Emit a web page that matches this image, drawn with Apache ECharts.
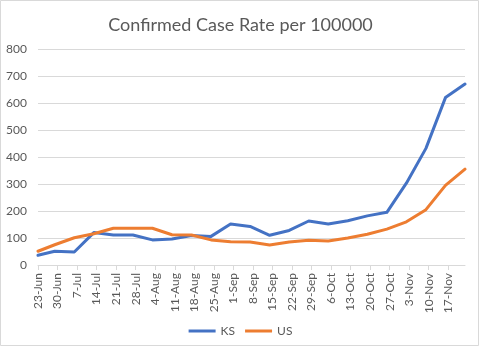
<!DOCTYPE html>
<html>
<head>
<meta charset="utf-8">
<script src="https://cdn.jsdelivr.net/npm/echarts@6/dist/echarts.min.js"></script>
<style>
html,body{margin:0;padding:0;background:#fff;}
#chart{width:481px;height:348px;}
</style>
</head>
<body>
<div id="chart"></div>
<script>
const dates = ['2020-06-23','2020-06-29','2020-07-06','2020-07-13','2020-07-20','2020-07-27','2020-08-03','2020-08-10','2020-08-17','2020-08-24','2020-08-31','2020-09-07','2020-09-14','2020-09-21','2020-09-28','2020-10-05','2020-10-12','2020-10-19','2020-10-26','2020-11-02','2020-11-09','2020-11-16','2020-11-23'];
const ksValues = [36,51,48,120,111,111,93,96,109,106,152,143,110,128,163,152,164,182,195,303,432,620,670];
const usValues = [51,75,101,116,136,136,136,112,111,93,86,85,74,85,92,89,100,114,133,160,205,295,355];
const tickLabels = ['23-Jun','30-Jun','7-Jul','14-Jul','21-Jul','28-Jul','4-Aug','11-Aug','18-Aug','25-Aug','1-Sep','8-Sep','15-Sep','22-Sep','29-Sep','6-Oct','13-Oct','20-Oct','27-Oct','3-Nov','10-Nov','17-Nov'];
const yTicks = [0,100,200,300,400,500,600,700,800];

const DAY = 86400000;
const t0 = Date.parse(dates[0]);
const dayOffsets = dates.map(d => Math.round((Date.parse(d) - t0) / DAY));
const tickValues = tickLabels.map((_, i) => i * 7);
const FONT = 'Lato, "Open Sans", sans-serif';
const TXT = '#595959';

const chart = echarts.init(document.getElementById('chart'), null, {renderer: 'canvas'});
chart.setOption({
  animation: false,
  backgroundColor: '#fff',
  title: {
    text: 'Confirmed Case Rate per 100000',
    left: 'center',
    top: 11,
    textStyle: {fontFamily: FONT, fontSize: 18, fontWeight: 'normal', color: TXT}
  },
  graphic: [{
    type: 'rect',
    shape: {x: 0.5, y: 0.5, width: 478, height: 345},
    style: {fill: 'none', stroke: '#d9d9d9', lineWidth: 1},
    silent: true, z: -1
  }],
  grid: {left: 38, right: 16, top: 49, bottom: 83, containLabel: false},
  legend: {
    data: [{name: 'KS', icon: 'rect'}, {name: 'US', icon: 'rect'}],
    top: 320,
    left: 'center',
    itemWidth: 27,
    itemHeight: 3,
    itemGap: 10,
    textStyle: {fontFamily: FONT, fontSize: 12, color: TXT}
  },
  xAxis: {
    type: 'value',
    min: dayOffsets[0],
    max: dayOffsets[dayOffsets.length - 1],
    splitLine: {show: false},
    axisLine: {show: true, lineStyle: {color: '#d9d9d9', width: 1}},
    axisTick: {show: true, length: 5, lineStyle: {color: '#d9d9d9'}, customValues: tickValues},
    axisLabel: {
      customValues: tickValues,
      rotate: 90,
      margin: 8,
      fontFamily: FONT, fontSize: 12, color: TXT,
      formatter: v => tickLabels[Math.round(v / 7)] || ''
    }
  },
  yAxis: {
    type: 'value',
    min: yTicks[0],
    max: yTicks[yTicks.length - 1],
    interval: yTicks[1] - yTicks[0],
    axisLine: {show: false},
    axisTick: {show: false},
    splitLine: {lineStyle: {color: '#d9d9d9', width: 1}},
    axisLabel: {margin: 11, fontFamily: FONT, fontSize: 12, color: TXT}
  },
  series: [
    {
      name: 'KS', type: 'line', symbol: 'none',
      data: dayOffsets.map((d, i) => [d, ksValues[i]]),
      lineStyle: {color: '#4472C4', width: 3, cap: 'round', join: 'round'},
      itemStyle: {color: '#4472C4'}
    },
    {
      name: 'US', type: 'line', symbol: 'none',
      data: dayOffsets.map((d, i) => [d, usValues[i]]),
      lineStyle: {color: '#ED7D31', width: 3, cap: 'round', join: 'round'},
      itemStyle: {color: '#ED7D31'}
    }
  ]
});
</script>
</body>
</html>
